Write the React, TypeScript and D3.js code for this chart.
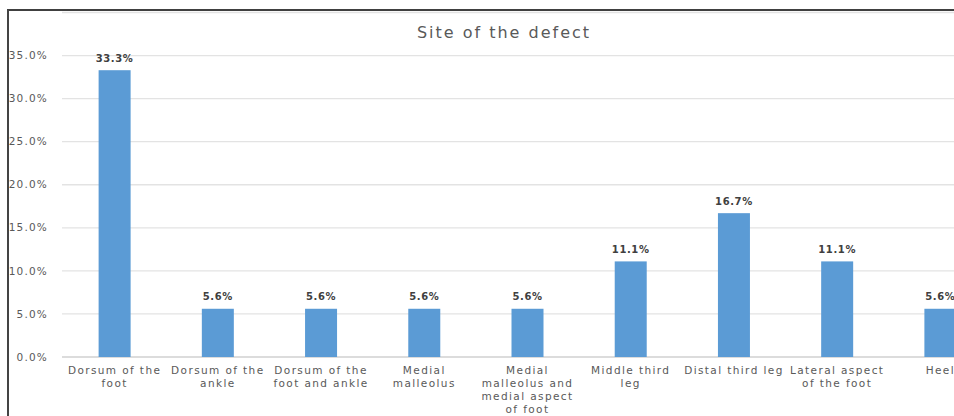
import * as d3 from "d3"

const categories = [
  "Dorsum of the\nfoot",
  "Dorsum of the\nankle",
  "Dorsum of the\nfoot and ankle",
  "Medial\nmalleolus",
  "Medial\nmalleolus and\nmedial aspect\nof foot",
  "Middle third\nleg",
  "Distal third leg",
  "Lateral aspect\nof the foot",
  "Heel",
]
const values = [33.3, 5.6, 5.6, 5.6, 5.6, 11.1, 16.7, 11.1, 5.6]
const yTicks = [0, 5, 10, 15, 20, 25, 30, 35, 40]
const labelledTicks = [0, 5, 10, 15, 20, 25, 30, 35]

const W = 954
const H = 416
const font = "'DejaVu Sans', 'Open Sans', sans-serif"

export default function App() {
  const x = d3.scaleBand<number>()
    .domain(d3.range(categories.length))
    .range([63, 992])
    .paddingInner(0.69)
    .paddingOuter(0.345)

  const y = d3.scaleLinear()
    .domain([0, 40])
    .range([357, 12.5])

  const cx = (i: number) => (x(i) ?? 0) + x.bandwidth() / 2

  return (
    <svg width={W} height={H} viewBox={`0 0 ${W} ${H}`}
      style={{ position: "absolute", left: 0, top: 0, background: "#fff" }}
      fontFamily={font}>
      <rect x={0} y={0} width={W} height={H} fill="#fff" />

      {/* gridlines */}
      {yTicks.map(t => (
        <line key={t} x1={62} x2={W} y1={y(t)} y2={y(t)}
          stroke={t === 0 ? "#d0d0d0" : "#e3e3e3"} strokeWidth={1.3} />
      ))}

      {/* y tick labels */}
      {labelledTicks.map(t => (
        <text key={t} x={48} y={y(t)} dy="0.35em" textAnchor="end"
          fontSize={10.5} fill="#595959" letterSpacing={1.2}>
          {t.toFixed(1)}%
        </text>
      ))}

      <text x={504} y={32} dy="0.35em" textAnchor="middle" fontSize={16}
        fill="#595959" letterSpacing={2}>Site of the defect</text>

      {/* bars */}
      {values.map((v, i) => (
        <g key={i}>
          <rect x={x(i)} y={y(v)} width={x.bandwidth()} height={y(0) - y(v)}
            fill="#5b9bd5" />
          <text x={cx(i)} y={y(v) - 12} dy="0.35em"
            textAnchor="middle" fontSize={10} fontWeight="bold" fill="#404040"
            letterSpacing={0.6}>
            {v.toFixed(1)}%
          </text>
        </g>
      ))}

      {/* category labels, one text per line */}
      {categories.map((c, i) =>
        c.split("\n").map((line, j) => (
          <text key={`${i}-${j}`} x={cx(i)} y={370.5 + j * 13} dy="0.35em"
            textAnchor="middle" fontSize={10.5} fill="#595959" letterSpacing={1.4}>
            {line}
          </text>
        ))
      )}

      {/* outer frame edges */}
      <line x1={7} x2={W} y1={10} y2={10} stroke="#000" strokeWidth={1.5} />
      <line x1={8} x2={8} y1={10} y2={H} stroke="#444" strokeWidth={2} />
    </svg>
  )
}
